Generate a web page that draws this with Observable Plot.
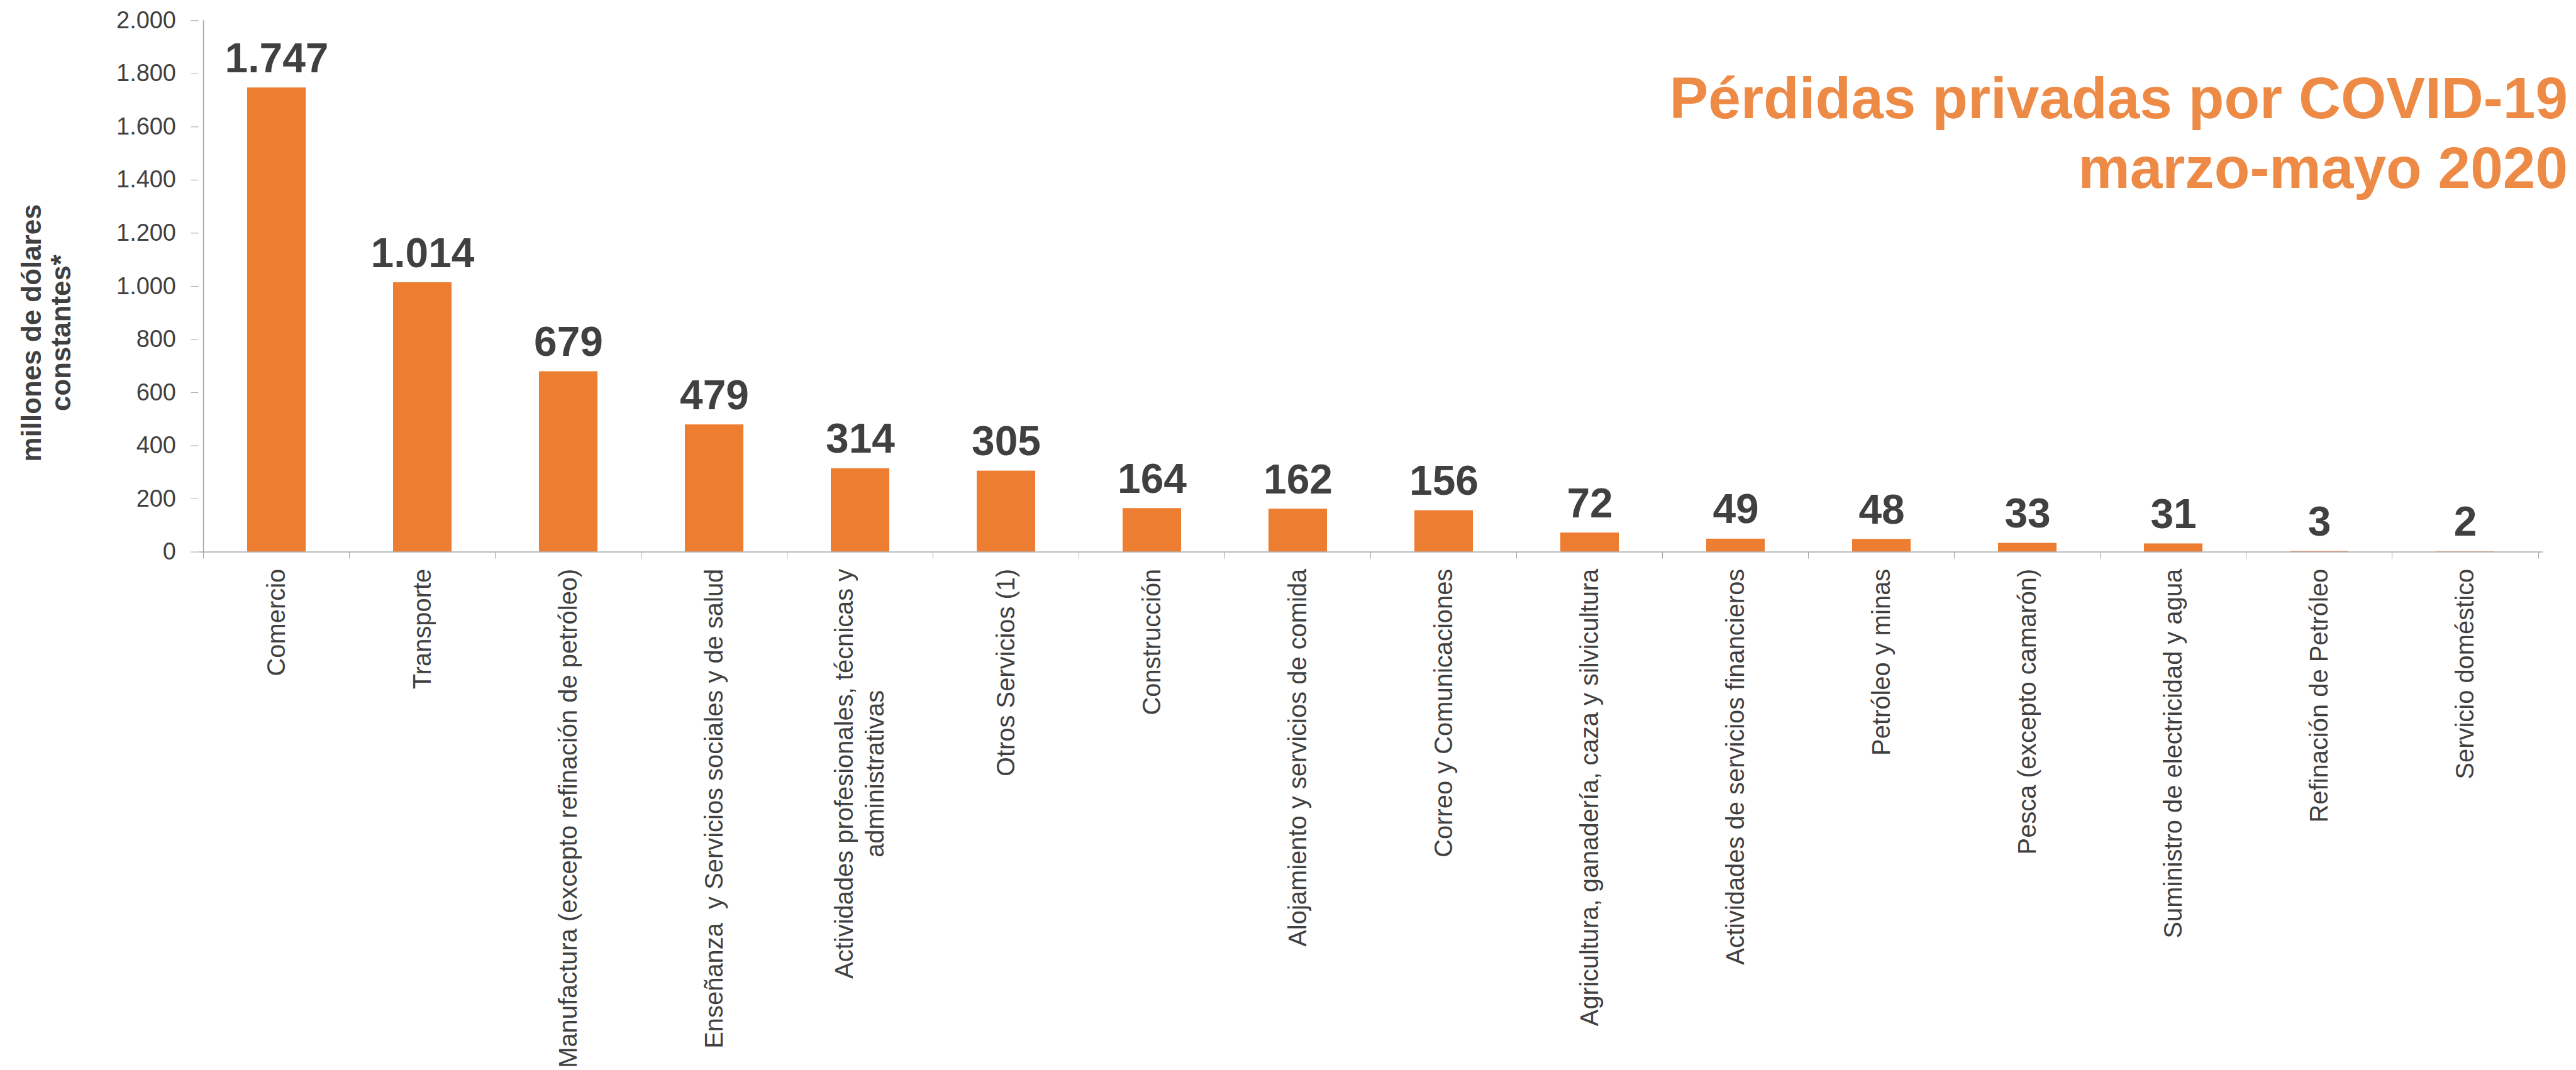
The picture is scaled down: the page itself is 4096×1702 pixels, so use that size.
<!DOCTYPE html>
<html><head><meta charset="utf-8">
<script src="https://cdn.jsdelivr.net/npm/d3@7"></script>
<script src="https://cdn.jsdelivr.net/npm/@observablehq/plot@0.6"></script>
<style>
html,body{margin:0;padding:0;background:#fff;overflow:hidden;}
#wrap{position:relative;width:4096px;height:1702px;}
#chart{position:absolute;left:0;top:0;}
#title{position:absolute;right:13px;top:101px;text-align:right;font-family:"Liberation Sans",Arial,Helvetica,sans-serif;font-weight:bold;font-size:92.8px;line-height:110.8px;color:#ED8A45;white-space:nowrap;}
</style></head><body>
<div id="wrap"><div id="chart"></div><div id="title">Pérdidas privadas por COVID-19<br>marzo-mayo 2020</div></div>
<script>
const categories = [
  "Comercio",
  "Transporte",
  "Manufactura (excepto refinación de petróleo)",
  "Enseñanza\u00a0 y Servicios sociales y de salud",
  "Actividades profesionales, técnicas y\nadministrativas",
  "Otros Servicios (1)",
  "Construcción",
  "Alojamiento y servicios de comida",
  "Correo y Comunicaciones",
  "Agricultura, ganadería, caza y silvicultura",
  "Actividades de servicios financieros",
  "Petróleo y minas",
  "Pesca (excepto camarón)",
  "Suministro de electricidad y agua",
  "Refinación de Petróleo",
  "Servicio doméstico"
];
const values = [1747, 1014, 679, 479, 314, 305, 164, 162, 156, 72, 49, 48, 33, 31, 3, 2];
const yTicks = [0, 200, 400, 600, 800, 1000, 1200, 1400, 1600, 1800, 2000];
const yTitle = "millones de dólares\nconstantes*";

const S = 0.998;
const W = 4096, H = 1702;
const FONT = '"Liberation Sans", Arial, Helvetica, sans-serif';
const marginLeft = 316 * S, marginRight = 53 * S, marginTop = 32.3 * S, marginBottom = H - 879.3 * S;
const step = (W - marginLeft - marginRight) / categories.length;
const AXIS = "#A6A6A6", TEXT = "#404040", BAR = "#ED7D31";

const es = d3.formatLocale({decimal: ",", thousands: ".", grouping: [3], currency: ["$", ""]});
const fmt = es.format(",d");

const data = categories.map((c, i) => ({cat: c, value: values[i]}));
const single = categories.filter(c => !c.includes("\n"));
const wrapped = categories.filter(c => c.includes("\n"));

const labelSize = 40 * S;
const labelLH = 1.22 * labelSize;
const labelGap = (906 - 879.3) * S;
const ctx = document.createElement("canvas").getContext("2d");
ctx.font = `${labelSize}px "Liberation Sans", Arial, sans-serif`;

const wrappedMarks = wrapped.flatMap(c => {
  const [l1, l2] = c.split("\n");
  const w1 = ctx.measureText(l1).width;
  return [
    Plot.text([c], {x: d => d, text: () => l1, frameAnchor: "bottom", rotate: -90, textAnchor: "end", lineAnchor: "middle", dy: labelGap, dx: -labelLH / 2, fontSize: labelSize, fill: TEXT}),
    Plot.text([c], {x: d => d, text: () => l2, frameAnchor: "bottom", rotate: -90, textAnchor: "middle", lineAnchor: "middle", dy: labelGap + w1 / 2, dx: labelLH / 2, fontSize: labelSize, fill: TEXT})
  ];
});

const chart = Plot.plot({
  width: W, height: H, marginLeft, marginRight, marginTop, marginBottom,
  style: {fontFamily: FONT, color: TEXT, background: "transparent", overflow: "visible"},
  x: {domain: categories, paddingInner: 0.6, paddingOuter: 0.3, axis: null},
  y: {domain: [0, 2000], axis: null},
  marks: [
    Plot.barY(data, {x: "cat", y: "value", fill: BAR}),
    Plot.ruleY([0], {stroke: AXIS, strokeWidth: 1.5}),
    Plot.ruleX([categories[0]], {x: d => d, y1: 0, y2: 2000, dx: -step / 2, stroke: AXIS, strokeWidth: 1.5}),
    Plot.axisY({ticks: yTicks, tickSize: 12 * S, tickPadding: 24 * S, tickFormat: fmt, fontSize: 38 * S, stroke: AXIS, fill: TEXT, label: null}),
    Plot.axisX({ticks: categories, tickSize: 11 * S, tickFormat: () => "", dx: -step / 2, stroke: AXIS, label: null}),
    Plot.axisX({ticks: categories.slice(-1), tickSize: 11 * S, tickFormat: () => "", dx: step / 2, stroke: AXIS, label: null}),
    Plot.text(data, {x: "cat", y: "value", text: d => fmt(d.value), dy: -25 * S, lineAnchor: "bottom", fontSize: 66 * S, fontWeight: "bold", fill: TEXT}),
    Plot.text(single, {x: d => d, frameAnchor: "bottom", rotate: -90, textAnchor: "end", lineAnchor: "middle", dy: labelGap, fontSize: labelSize, fill: TEXT}),
    ...wrappedMarks,
    Plot.text([yTitle], {frameAnchor: "left", rotate: -90, dx: -(316 - 73.5) * S, dy: (530 - 455.8) * S, textAnchor: "middle", lineAnchor: "middle", lineHeight: 47 / 44, fontSize: 44 * S, fontWeight: "bold", fill: TEXT})
  ]
});
document.getElementById("chart").appendChild(chart);
</script>
</body></html>
